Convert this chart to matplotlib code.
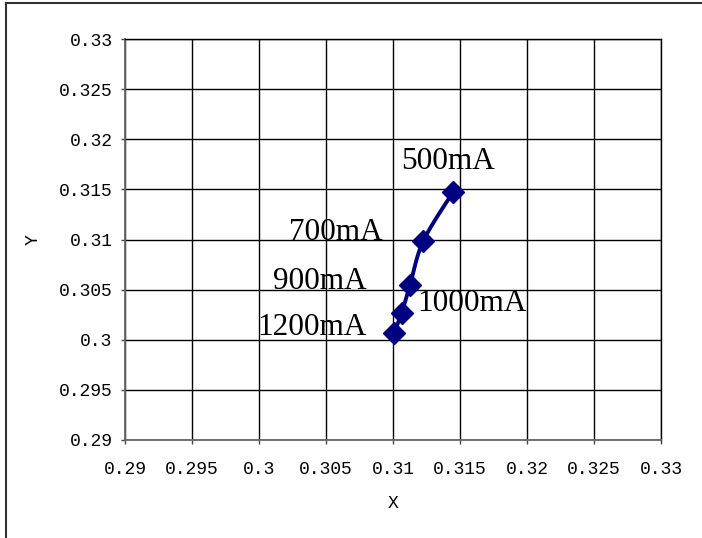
import numpy as np
import matplotlib
matplotlib.use("Agg")
import matplotlib.pyplot as plt
from matplotlib.lines import Line2D

# ---- data ----
labels = ["500mA", "700mA", "900mA", "1000mA", "1200mA"]
x_vals = [0.3145, 0.31226, 0.31127, 0.31065, 0.31007]
y_vals = [0.31477, 0.30985, 0.30546, 0.30270, 0.30064]
x_ticks = [0.29, 0.295, 0.30, 0.305, 0.31, 0.315, 0.32, 0.325, 0.33]
y_ticks = [0.29, 0.295, 0.30, 0.305, 0.31, 0.315, 0.32, 0.325, 0.33]
x_tick_labels = ["0.29", "0.295", "0.3", "0.305", "0.31", "0.315", "0.32", "0.325", "0.33"]
y_tick_labels = ["0.29", "0.295", "0.3", "0.305", "0.31", "0.315", "0.32", "0.325", "0.33"]

W, H = 702, 538
fig = plt.figure(figsize=(W / 100, H / 100), dpi=100)
ax = fig.add_axes([125 / W, (H - 440) / H, (661 - 125) / W, (440 - 39) / H])
ax.set_xlim(0.29, 0.33)
ax.set_ylim(0.29, 0.33)

tick_font = dict(family="Liberation Mono", size=13)
ax.set_xticks(x_ticks)
ax.set_xticklabels(x_tick_labels, fontdict=tick_font)
ax.set_yticks(y_ticks)
ax.set_yticklabels(y_tick_labels, fontdict=tick_font)
ax.tick_params(axis="both", direction="out", length=3, width=1, color="#444444")
ax.tick_params(axis="x", pad=12)
ax.tick_params(axis="y", pad=6)
ax.grid(True, color="black", linewidth=1.0)
ax.set_axisbelow(True)
for s in ["top", "right"]:
    ax.spines[s].set_color("black")
    ax.spines[s].set_linewidth(1.0)
for s in ["left", "bottom"]:
    ax.spines[s].set_color("#666666")
    ax.spines[s].set_linewidth(1.3)

ax.set_xlabel("X", fontdict=dict(family="Liberation Mono", size=13))
ax.set_ylabel("Y", fontdict=dict(family="Liberation Mono", size=13))
ax.xaxis.set_label_coords(0.5, -(503 - 440) / 401, transform=ax.transAxes)
ax.yaxis.set_label_coords(-(125 - 33) / 536, 0.5, transform=ax.transAxes)
ax.xaxis.label.set_va("center")
ax.yaxis.label.set_va("center")

# smooth (Excel-like) curve computed in display space
fig.canvas.draw()
pts = ax.transData.transform(np.column_stack([x_vals, y_vals]))
n = len(pts)
curve = []
for i in range(n - 1):
    p0 = pts[i - 1] if i > 0 else pts[i]
    p1 = pts[i]
    p2 = pts[i + 1]
    p3 = pts[i + 2] if i + 2 < n else pts[i + 1]
    c1 = p1 + (p2 - p0) / 6.0
    c2 = p2 - (p3 - p1) / 6.0
    t = np.linspace(0, 1, 30)[:, None]
    seg = ((1 - t) ** 3) * p1 + 3 * ((1 - t) ** 2) * t * c1 + 3 * (1 - t) * t ** 2 * c2 + t ** 3 * p2
    curve.append(seg if i == 0 else seg[1:])
curve = np.vstack(curve)
curve_data = ax.transData.inverted().transform(curve)
ax.plot(curve_data[:, 0], curve_data[:, 1], color="#000080", linewidth=2.8, zorder=3,
        solid_capstyle="round")
ax.plot(x_vals, y_vals, linestyle="none", marker="D", markersize=11,
        color="#000080", zorder=4)

# labels (offsets in pixels)
offsets = [(-5, 23, "center"), (-41, 1, "right"), (-43, -4, "right"), (16, 2, "left"), (-27, -2, "right")]
for lab, xv, yv, (dx, dy, ha) in zip(labels, x_vals, y_vals, offsets):
    ax.annotate(lab, (xv, yv), xytext=(dx, dy), textcoords="offset pixels",
                ha=ha, va="baseline", fontsize=22.5, family="Liberation Serif", color="black",
                zorder=5)

# figure border (left and top only visible)
fig.add_artist(Line2D([5.5 / W, 5.5 / W], [0, 1 - 2.5 / H], transform=fig.transFigure,
                      color="#333333", linewidth=1.5))
fig.add_artist(Line2D([5.5 / W, 1], [1 - 2.5 / H, 1 - 2.5 / H], transform=fig.transFigure,
                      color="#333333", linewidth=1.5))

fig.savefig("out.png", dpi=100)
